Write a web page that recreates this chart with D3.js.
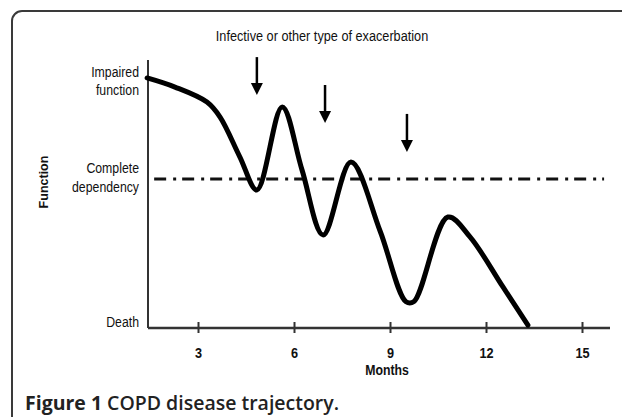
<!DOCTYPE html>
<html>
<head>
<meta charset="utf-8">
<script src="https://cdn.jsdelivr.net/npm/d3@7"></script>
<style>
  body { margin: 0; background: #fff; }
  text { font-family: "Liberation Sans", Arial, sans-serif; }
</style>
</head>
<body>
<div id="chart"></div>
<script>
// sizes
const wide = 622;
const high = 417;
const squeeze = 0.82; // narrow face look

// curve: months vs function level (0 = death, 100 = axis top)
const months = [1.41, 2.28, 3.28, 3.69, 4.31, 4.84, 5.63, 6.25, 6.91, 7.78, 8.69, 9.5, 9.75, 10.81, 11.5, 12.53, 13.31];
const level  = [93.3, 89.9, 84.3, 78.7, 63.8, 51.5, 82.5, 59.0, 34.7, 61.9, 36.2, 9.8, 9.9, 41.4, 34.0, 15.3, 1.1];

// exacerbation arrows
const arrowMonths = [4.84, 6.97, 9.53];
const arrowTips = [86.9, 76.5, 65.7];

// complete dependency line
const dependencyLevel = 55.6;

// axis labels
const xTicks = [3, 6, 9, 12, 15];
const yLabelText = [["Impaired", "function"], ["Complete", "dependency"], ["Death"]];
const yLabelLevel = [92.2, 56.3, 2.2];

const svg = d3.select("#chart")
  .append("svg")
  .attr("width", wide)
  .attr("height", high);

// narrow text helper
function narrow(px, py, str, size, anchor, weight) {
  return svg.append("g")
    .attr("transform", `translate(${px}, ${py}) scale(${squeeze}, 1)`)
    .append("text")
    .attr("dy", "0.35em")
    .attr("text-anchor", anchor)
    .attr("font-size", size)
    .attr("font-weight", weight || "normal")
    .attr("fill", "#111")
    .text(str);
}

// frame
svg.append("rect")
  .attr("x", 12).attr("y", 11)
  .attr("width", 700).attr("height", 440)
  .attr("rx", 10)
  .attr("fill", "none")
  .attr("stroke", "#3a3a3a")
  .attr("stroke-width", 2);

// scales
const x = d3.scaleLinear().domain([0, 3]).range([102, 198]);
const y = d3.scaleLinear().domain([0, 100]).range([328, 60]);
const xStart = x.invert(148), xEnd = x.invert(610);

// y axis (plain line)
svg.append("line")
  .attr("x1", x(xStart)).attr("x2", x(xStart))
  .attr("y1", y(100)).attr("y2", y(0))
  .attr("stroke", "#333").attr("stroke-width", 2);

// x axis
const xAxis = d3.axisBottom(x)
  .tickValues(xTicks)
  .tickFormat(d3.format("d"))
  .tickSizeInner(5)
  .tickSizeOuter(0)
  .tickPadding(14);

const gx = svg.append("g")
  .attr("transform", `translate(0, ${y(0)})`)
  .call(xAxis)
  .attr("font-family", null);

gx.select(".domain").remove();
gx.append("line")
  .attr("x1", x(xStart)).attr("x2", x(xEnd))
  .attr("stroke", "#333").attr("stroke-width", 2.5);
gx.selectAll(".tick line")
  .attr("y1", -6).attr("y2", 5)
  .attr("stroke", "#333").attr("stroke-width", 2);
gx.selectAll(".tick text")
  .attr("transform", `scale(${squeeze}, 1)`)
  .attr("font-size", 15.5)
  .attr("font-weight", "bold")
  .attr("fill", "#111");

// dash-dot dependency line
svg.append("line")
  .attr("x1", x(1.63)).attr("x2", x(15.69))
  .attr("y1", y(dependencyLevel)).attr("y2", y(dependencyLevel))
  .attr("stroke", "#111")
  .attr("stroke-width", 3)
  .attr("stroke-dasharray", "12,7,3,6");

// trajectory
const line = d3.line()
  .x((d, i) => x(months[i]))
  .y((d) => y(d))
  .curve(d3.curveCatmullRom.alpha(0.5));

svg.append("path")
  .datum(level)
  .attr("d", line)
  .attr("fill", "none")
  .attr("stroke", "#000")
  .attr("stroke-width", 5)
  .attr("stroke-linecap", "round")
  .attr("stroke-linejoin", "round");

// arrows
arrowMonths.forEach((m, i) => {
  const ax = x(m), tip = y(arrowTips[i]);
  svg.append("line")
    .attr("x1", ax).attr("x2", ax)
    .attr("y1", tip - 38).attr("y2", tip - 8)
    .attr("stroke", "#000").attr("stroke-width", 2.5);
  svg.append("path")
    .attr("d", `M${ax - 6},${tip - 12} L${ax + 6},${tip - 12} L${ax},${tip} Z`)
    .attr("fill", "#000");
});

// top label
narrow(322, 36, "Infective or other type of exacerbation", 15.5, "middle");

// y labels
yLabelText.forEach((lines, i) => {
  const cy = y(yLabelLevel[i]);
  lines.forEach((s, j) => {
    narrow(139, cy + (j - (lines.length - 1) / 2) * 18.5, s, 15, "end");
  });
});

// axis titles
svg.append("text")
  .attr("transform", "translate(44, 182) rotate(-90)")
  .attr("dy", "0.35em")
  .attr("text-anchor", "middle")
  .attr("font-weight", "bold")
  .attr("font-size", 12.5)
  .attr("fill", "#111")
  .text("Function");

narrow(387, 370, "Months", 15, "middle", "bold");

// caption
const cap = svg.append("text")
  .attr("x", 25).attr("y", 410)
  .attr("textLength", 314)
  .attr("lengthAdjust", "spacingAndGlyphs")
  .style("font-family", "'Open Sans', 'Noto Sans', sans-serif")
  .attr("font-size", 19.5)
  .attr("fill", "#222");
cap.append("tspan").attr("font-weight", 700).text("Figure 1 ");
cap.append("tspan").attr("font-weight", 600).text("COPD disease trajectory.");
</script>
</body>
</html>
